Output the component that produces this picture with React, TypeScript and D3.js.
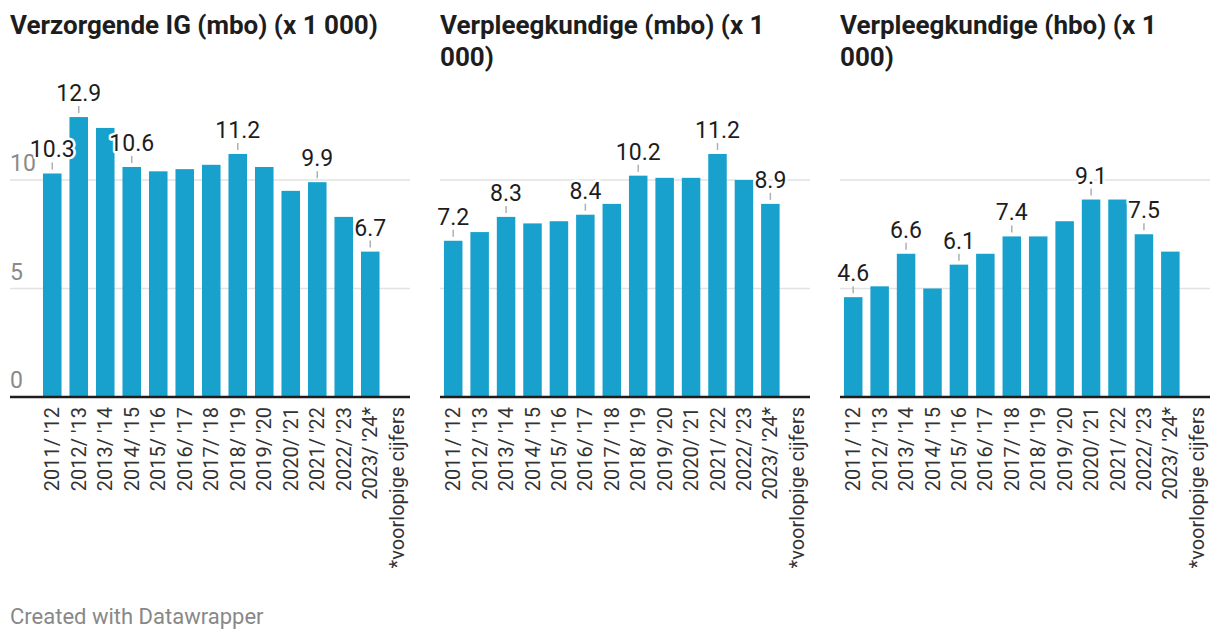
import * as d3 from 'd3'
import { useEffect, useRef } from 'react'

const categories = [
  "2011/ '12", "2012/ '13", "2013/ '14", "2014/ '15", "2015/ '16", "2016/ '17", "2017/ '18",
  "2018/ '19", "2019/ '20", "2020/ '21", "2021/ '22", "2022/ '23", "2023/ '24*", '*voorlopige cijfers',
]

const titles = ['Verzorgende IG (mbo) (x 1 000)', 'Verpleegkundige (mbo) (x 1 000)', 'Verpleegkundige (hbo) (x 1 000)']

const verzorgendeIG = [10.3, 12.9, 12.4, 10.6, 10.4, 10.5, 10.7, 11.2, 10.6, 9.5, 9.9, 8.3, 6.7]
const verpleegMbo = [7.2, 7.6, 8.3, 8.0, 8.1, 8.4, 8.9, 10.2, 10.1, 10.1, 11.2, 10.0, 8.9]
const verpleegHbo = [4.6, 5.1, 6.6, 5.0, 6.1, 6.6, 7.4, 7.4, 8.1, 9.1, 9.1, 7.5, 6.7]

// which bars get a value label
const labeledIG = [0, 1, 3, 7, 10, 12]
const labeledMbo = [0, 2, 5, 7, 10, 12]
const labeledHbo = [0, 2, 4, 6, 9, 11]

const yTicks = [0, 5, 10]

const series = [verzorgendeIG, verpleegMbo, verpleegHbo]
const labeled = [labeledIG, labeledMbo, labeledHbo]

const W = 1220
const H = 642
const BLUE = '#18a1cd'
const FONT = 'Roboto, sans-serif'

export default function App() {
  const svgRef = useRef<SVGSVGElement>(null)

  useEffect(() => {
    if (!svgRef.current) return
    const svg = d3.select(svgRef.current)
    svg.selectAll('*').remove()

    const baseY = 397
    const y = d3.scaleLinear().domain([0, 10]).range([baseY, 180])

    // panel geometry: [grid start, band start, band end]
    const panels = [
      [10, 39, 410],
      [440, 440, 810],
      [840, 840, 1210],
    ]

    panels.forEach(([gx, bx0, bx1], p) => {
      const g = svg.append('g')
      const x = d3.scaleBand<string>().domain(categories).range([bx0, bx1]).paddingInner(0.3).paddingOuter(0.15)

      // title, wrapped to panel width
      const title = g.append('text')
        .attr('x', gx).attr('y', 34)
        .attr('font-family', FONT).attr('font-weight', 700).attr('font-size', 26)
        .attr('fill', '#1d1d1d')
      const words = titles[p].split(' ')
      let line: string[] = []
      let tspan = title.append('tspan').attr('x', gx).attr('dy', 0)
      const maxW = bx1 - gx
      words.forEach((w) => {
        line.push(w)
        tspan.text(line.join(' '))
        if ((tspan.node() as SVGTSpanElement).getComputedTextLength() > maxW && line.length > 1) {
          line.pop()
          tspan.text(line.join(' '))
          line = [w]
          tspan = title.append('tspan').attr('x', gx).attr('dy', 32).text(w)
        }
      })

      // gridlines
      g.selectAll('line.grid')
        .data(yTicks.filter((t) => t > 0))
        .join('line')
        .attr('x1', gx).attr('x2', bx1)
        .attr('y1', (d) => y(d)).attr('y2', (d) => y(d))
        .attr('stroke', '#e2e2e2').attr('stroke-width', 1.5)

      // bars
      const vals = series[p]
      g.selectAll('rect')
        .data(vals)
        .join('rect')
        .attr('x', (_, i) => x(categories[i])!)
        .attr('width', x.bandwidth())
        .attr('y', (d) => y(d))
        .attr('height', (d) => baseY - y(d))
        .attr('fill', BLUE)

      // y labels only on first panel
      if (p === 0) {
        g.selectAll('text.ytick')
          .data(yTicks)
          .join('text')
          .attr('x', gx)
          .attr('y', (d) => y(d) - 9)
          .attr('font-family', FONT).attr('font-size', 23)
          .attr('fill', '#8a8a8a')
          .text((d) => d)
      }

      // baseline
      g.append('line')
        .attr('x1', gx).attr('x2', bx1)
        .attr('y1', baseY).attr('y2', baseY)
        .attr('stroke', '#1d1d1d').attr('stroke-width', 2.5)

      // value labels
      labeled[p].forEach((i) => {
        const cx = x(categories[i])! + x.bandwidth() / 2
        const top = y(vals[i])
        g.append('line')
          .attr('x1', cx).attr('x2', cx)
          .attr('y1', top - 4).attr('y2', top - 11)
          .attr('stroke', '#b0b0b0').attr('stroke-width', 1.5)
        g.append('text')
          .attr('x', cx).attr('y', top - 16)
          .attr('text-anchor', 'middle')
          .attr('font-family', FONT).attr('font-size', 23)
          .attr('fill', '#1d1d1d')
          .attr('stroke', '#fff').attr('stroke-width', 5)
          .attr('stroke-linejoin', 'round')
          .attr('paint-order', 'stroke')
          .text(vals[i].toFixed(1))
      })

      // x labels, rotated
      g.selectAll('text.xlab')
        .data(categories)
        .join('text')
        .attr('transform', (d) => `translate(${x(d)! + x.bandwidth() / 2},407) rotate(-90)`)
        .attr('text-anchor', 'end')
        .attr('dy', '0.35em')
        .attr('font-family', FONT).attr('font-size', 20)
        .attr('fill', '#333')
        .text((d) => d)
    })

    svg.append('text')
      .attr('x', 10).attr('y', 624)
      .attr('font-family', FONT).attr('font-size', 22)
      .attr('fill', '#888')
      .text('Created with Datawrapper')
  }, [])

  return (
    <div style={{ position: 'absolute', left: 0, top: 0, background: '#fff' }}>
      <svg ref={svgRef} width={W} height={H} style={{ display: 'block' }} />
    </div>
  )
}
